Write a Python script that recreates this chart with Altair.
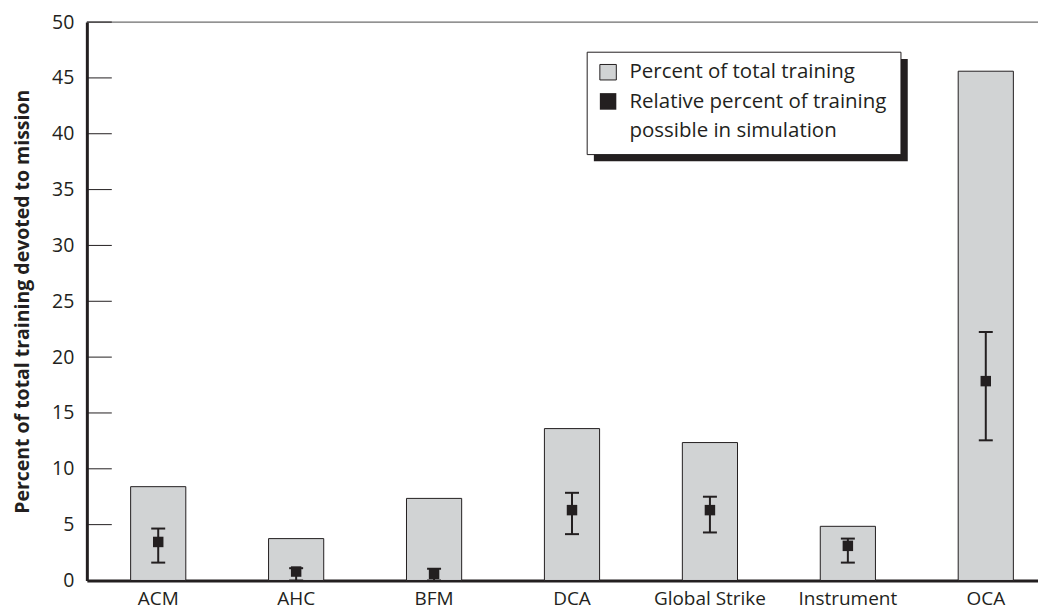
import altair as alt
import pandas as pd

# ---- data ----
missions = ["ACM", "AHC", "BFM", "DCA", "Global Strike", "Instrument", "OCA"]
pct_total = [8.4, 3.75, 7.35, 13.6, 12.35, 4.85, 45.6]
pct_sim = [3.45, 0.8, 0.6, 6.3, 6.3, 3.1, 17.85]
sim_low = [1.6, 0.0, 0.0, 4.15, 4.3, 1.6, 12.55]
sim_high = [4.65, 1.1, 1.05, 7.85, 7.5, 3.75, 22.25]
y_ticks = [5, 10, 15, 20, 25, 30, 35, 40, 45, 50]

legend_labels = ["Percent of total training",
                 "Relative percent of training",
                 "possible in simulation"]

DARK = "#231f20"
GRAY = "#d1d3d4"
FONT = "Open Sans"
W, H = 953, 559.5

df = pd.DataFrame({
    "mission": missions,
    "total": pct_total,
    "sim": pct_sim,
    "lo": sim_low,
    "hi": sim_high,
})
ticks_df = pd.DataFrame({"v": y_ticks})
one = pd.DataFrame({"k": [0]})

x_enc = alt.X("mission:N", sort=missions, title=None,
              scale=alt.Scale(paddingInner=0.6, paddingOuter=0.248, align=0.64),
              axis=alt.Axis(labelAngle=0, labelFontSize=19, labelFont=FONT,
                            labelColor=DARK, domainColor=DARK, domainWidth=3,
                            ticks=False, tickSize=0, labelPadding=9))
y_scale = alt.Scale(domain=[0, 50], nice=False)

base = alt.Chart(df)

bars = base.mark_bar(fill=GRAY, stroke=DARK, strokeWidth=1).encode(
    x=x_enc,
    y=alt.Y("total:Q", scale=y_scale,
            title="Percent of total training devoted to mission",
            axis=alt.Axis(values=[0, 5, 10, 15, 20, 25, 30, 35, 40, 45, 50],
                          grid=False, ticks=False, tickSize=0,
                          labelFontSize=19.5, labelFont=FONT, labelColor=DARK,
                          labelPadding=13, domainColor=DARK, domainWidth=3,
                          titleFont=FONT, titleFontSize=19.5,
                          titleFontWeight="bold", titleColor=DARK,
                          titlePadding=19)),
)

top_rule = alt.Chart(one).mark_rule(color="#555555", strokeWidth=1).encode(
    y=alt.Y(datum=50, scale=y_scale),
    x=alt.value(0), x2=alt.value(W),
)

tick_rules = alt.Chart(ticks_df).mark_rule(color=DARK, strokeWidth=1).encode(
    y=alt.Y("v:Q", scale=y_scale),
    x=alt.value(0), x2=alt.value(25),
)

err = base.mark_rule(color=DARK, strokeWidth=2).encode(
    x=alt.X("mission:N", sort=missions),
    y=alt.Y("lo:Q", scale=y_scale),
    y2="hi:Q",
)
cap_lo = base.mark_tick(color=DARK, thickness=2, size=14, opacity=1).encode(
    x=alt.X("mission:N", sort=missions),
    y=alt.Y("lo:Q", scale=y_scale),
)
cap_hi = base.mark_tick(color=DARK, thickness=2, size=14, opacity=1).encode(
    x=alt.X("mission:N", sort=missions),
    y=alt.Y("hi:Q", scale=y_scale),
)
squares = base.mark_square(size=110, color=DARK, opacity=1, filled=True).encode(
    x=alt.X("mission:N", sort=missions),
    y=alt.Y("sim:Q", scale=y_scale),
)

# ---- custom legend (box with drop shadow) ----
leg_shadow = alt.Chart(one).mark_rect(fill=DARK).encode(
    x=alt.value(508), x2=alt.value(822.5), y=alt.value(37), y2=alt.value(139.5))
leg_box = alt.Chart(one).mark_rect(fill="white", stroke=DARK, strokeWidth=1).encode(
    x=alt.value(501.3), x2=alt.value(815.7), y=alt.value(30.2), y2=alt.value(132.8))
leg_sq1 = alt.Chart(one).mark_rect(fill=GRAY, stroke=DARK, strokeWidth=1).encode(
    x=alt.value(514), x2=alt.value(530.5), y=alt.value(42.5), y2=alt.value(58))
leg_sq2 = alt.Chart(one).mark_rect(fill=DARK).encode(
    x=alt.value(514), x2=alt.value(530.5), y=alt.value(71.2), y2=alt.value(87.8))
leg_txt = []
for lbl, yy in zip(legend_labels, [56.5, 86.5, 115.2]):
    leg_txt.append(
        alt.Chart(one).mark_text(align="left", baseline="alphabetic", font=FONT,
                                 fontSize=20.5, color=DARK, text=lbl).encode(
            x=alt.value(543.7), y=alt.value(yy)))

chart = alt.layer(
    top_rule, bars, tick_rules, err, cap_lo, cap_hi, squares,
    leg_shadow, leg_box, leg_sq1, leg_sq2, *leg_txt
).properties(
    width=W, height=H,
    autosize=alt.AutoSizeParams(type="none"),
    padding={"left": 79, "top": 13.5, "right": 0, "bottom": 38},
).configure_view(stroke=None).configure(background="white")

chart.save("out.html", embed_options={"renderer": "svg", "actions": False})
